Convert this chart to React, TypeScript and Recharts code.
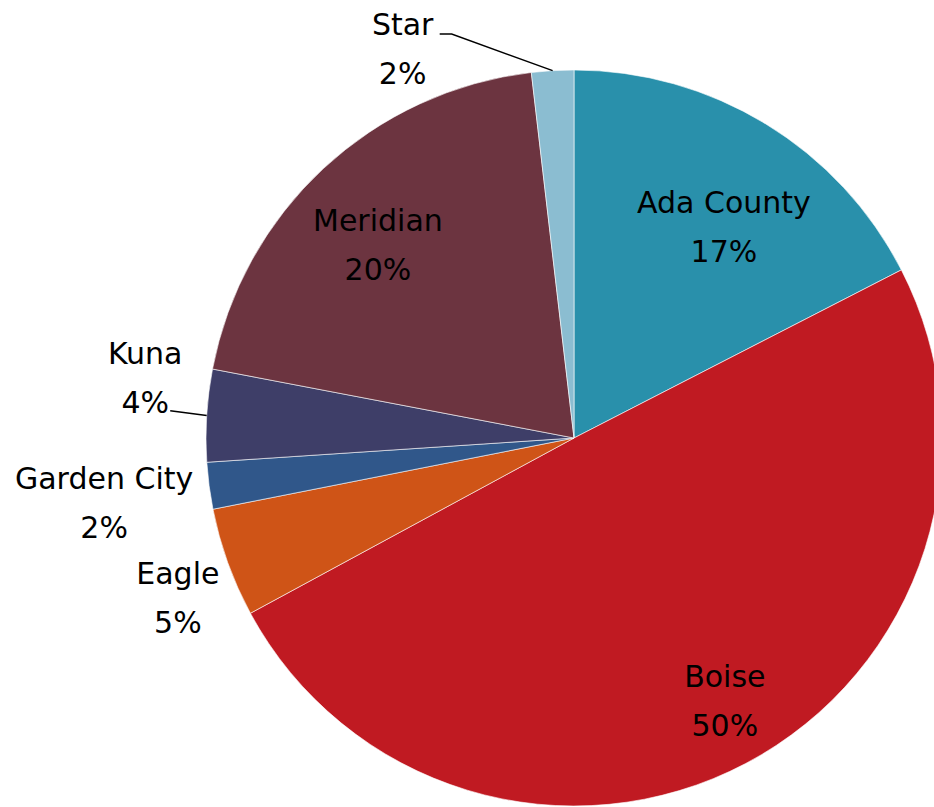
import React from 'react';
import { PieChart, Pie, Cell } from 'recharts';

// Share of total by jurisdiction (percent)
const places = ['Ada County', 'Boise', 'Eagle', 'Garden City', 'Kuna', 'Meridian', 'Star'];
const shares = [17.45, 49.65, 4.8, 2.05, 4.05, 20.15, 1.85];

const colors = ['#2990ab', '#c01a22', '#cf5417', '#30578a', '#3e3e68', '#6c3440', '#8bbdd1'];

// label placement: distance as a fraction of the radius, and a turn (degrees, clockwise) off the slice middle
const labelSpots = [
  { r: 0.68, turn: 5.4 },
  { r: 0.848, turn: -1.1 },
  { r: 1.172, turn: -3.5 },
  { r: 1.293, turn: -1.6 },
  { r: 1.173, turn: 3.1, leader: [[25, 22.5]] },
  { r: 0.727, turn: -4.2 },
  { r: 1.13, turn: -21, leader: [[49, -25], [37, -25]] },
];

const RAD = Math.PI / 180;

const renderLabel = (props: any) => {
  const { cx, cy, midAngle, outerRadius, percent, index } = props;
  const spot = labelSpots[index];
  const a = (midAngle - spot.turn) * RAD;
  const x = cx + outerRadius * spot.r * Math.cos(a);
  const y = cy - outerRadius * spot.r * Math.sin(a);

  let leader = null;
  if (spot.leader) {
    const ex = cx + outerRadius * Math.cos(midAngle * RAD);
    const ey = cy - outerRadius * Math.sin(midAngle * RAD);
    const pts = [[ex, ey], ...spot.leader.map(([dx, dy]) => [x + dx, y + dy])];
    leader = (
      <polyline
        points={pts.map((p) => p.join(',')).join(' ')}
        fill="none"
        stroke="#000"
        strokeWidth={1.5}
      />
    );
  }

  return (
    <g key={`label-${index}`}>
      {leader}
      <text textAnchor="middle" fontSize={30} fontFamily="'DejaVu Sans', sans-serif" fill="#000">
        <tspan x={x} y={y - 24.5}>{places[index]}</tspan>
        <tspan x={x} y={y + 24.5}>{Math.round(percent * 100)}%</tspan>
      </text>
    </g>
  );
};

const App: React.FC = () => {
  const data = places.map((name, i) => ({ name, value: shares[i] }));

  return (
    <div style={{ position: 'absolute', left: 0, top: 0, width: 934, height: 807, background: '#fff' }}>
      <PieChart width={934} height={807} margin={{ top: 0, right: 0, bottom: 0, left: 0 }}>
        <Pie
          data={data}
          dataKey="value"
          nameKey="name"
          cx={574}
          cy={438}
          outerRadius={368}
          startAngle={90}
          endAngle={-270}
          stroke="#ffffff"
          strokeWidth={0.6}
          label={renderLabel}
          labelLine={false}
          isAnimationActive={false}
        >
          {data.map((d, i) => (
            <Cell key={d.name} fill={colors[i]} />
          ))}
        </Pie>
      </PieChart>
    </div>
  );
};

export default App;
